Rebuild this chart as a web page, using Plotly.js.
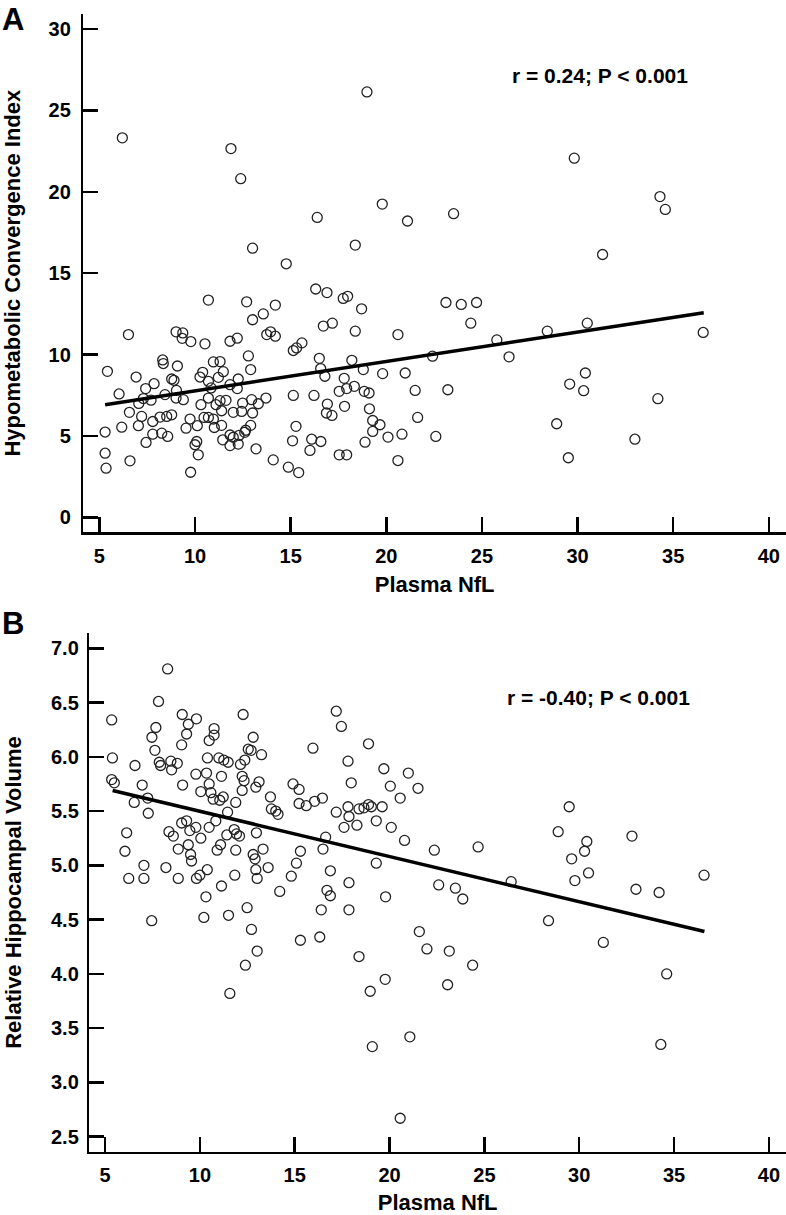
<!DOCTYPE html>
<html><head><meta charset="utf-8">
<script src="https://cdn.plot.ly/plotly-3.0.1.min.js"></script>
<style>html,body{margin:0;padding:0;background:#fff}#chart{width:786px;height:1215px}</style>
</head><body><div id="chart"></div>
<script>
// Panel A: Plasma NfL vs Hypometabolic Convergence Index
const nflA = [6.20,11.88,12.39,18.99,19.79,16.39,18.38,13.01,14.77,16.31,16.90,17.98,17.75,
21.11,23.52,29.83,34.31,34.59,31.31,
23.12,23.92,24.72,24.42,20.61,22.42,25.78,26.42,28.42,30.51,36.57,20.99,21.51,23.22,29.59,30.41,30.32,34.20,21.64,28.91,20.09,20.82,22.59,33.0,20.61,29.52,
10.70,12.70,14.20,13.57,13.01,18.71,16.71,17.18,18.38,9.01,9.36,9.33,9.78,10.52,11.83,12.21,13.75,13.95,14.20,15.14,15.31,15.59,6.52,5.42,12.79,16.50,18.20,10.96,11.31,8.31,8.34,9.08,12.91,16.57,16.79,18.80,19.81,10.40,11.48,10.26,11.22,12.26,10.70,6.92,8.78,8.90,7.86,7.42,6.03,8.43,9.03,9.39,9.01,11.83,12.21,10.84,10.70,11.10,11.31,11.62,12.49,12.96,13.31,13.01,12.44,13.71,10.31,7.06,7.30,7.70,6.57,7.21,7.79,8.17,8.52,8.78,9.74,10.47,10.70,10.96,11.39,12.00,6.17,7.04,9.53,10.12,11.01,11.39,12.91,12.65,15.28,19.67,19.29,5.30,7.79,8.26,8.57,7.44,10.09,10.00,11.45,11.83,12.26,11.83,12.0,12.30,12.60,13.19,15.10,16.10,16.01,16.58,18.89,10.17,14.09,17.54,17.93,14.88,15.42,9.77,5.35,5.30,6.60,16.22,15.14,17.54,17.93,18.33,17.80,18.85,19.10,16.92,16.87,17.16,17.82,19.12,19.29];
const hciA = [23.32,22.66,20.81,26.14,19.25,18.43,16.73,16.54,15.58,14.03,13.81,13.58,13.45,
18.21,18.66,22.07,19.71,18.92,16.15,
13.20,13.08,13.20,11.93,11.23,9.90,10.90,9.86,11.44,11.93,11.36,8.87,7.80,7.84,8.19,8.87,7.78,7.29,6.14,5.75,4.93,5.11,4.97,4.80,3.49,3.66,
13.35,13.24,13.04,12.50,12.14,12.81,11.75,11.93,11.44,11.40,11.33,11.0,10.80,10.66,10.82,11.01,11.23,11.40,11.13,10.25,10.41,10.72,11.23,8.97,9.92,9.77,9.65,9.55,9.57,9.67,9.45,9.30,9.08,9.14,8.67,9.08,8.83,8.91,8.95,8.62,8.60,8.50,8.36,8.62,8.50,8.42,8.21,7.91,7.58,7.54,7.80,7.23,7.33,8.15,7.91,7.95,7.33,6.92,7.17,7.19,7.02,7.23,6.98,6.41,6.51,7.33,6.92,7.00,7.30,7.20,6.45,6.20,5.89,6.16,6.20,6.30,6.04,6.14,6.14,6.04,6.55,6.45,5.54,5.63,5.48,5.63,5.52,5.65,5.65,5.35,5.59,5.69,5.28,5.24,5.11,5.17,4.97,4.60,4.66,4.46,4.76,4.41,4.50,5.06,4.92,5.03,5.22,4.21,4.70,4.80,4.11,4.66,4.62,3.84,3.53,3.84,3.84,3.08,2.75,2.77,3.02,3.94,3.47,7.49,7.49,7.74,7.91,8.05,8.54,7.74,7.64,6.96,6.41,6.26,6.82,6.67,5.95];
const fitAx = [5.3, 36.6];
const fitAy = [6.92, 12.57];

// Panel B: Plasma NfL vs Relative Hippocampal Volume
const nflB = [8.30,7.82,5.35,5.39,5.35,5.49,6.58,6.96,7.25,6.54,7.28,6.14,6.05,6.25,7.05,7.05,7.68,7.47,7.63,7.86,7.93,8.47,8.81,8.51,9.09,9.04,9.07,9.39,9.82,9.30,9.79,10.35,10.40,10.05,10.49,10.58,10.70,10.49,10.75,10.75,11.00,11.26,11.49,11.14,11.05,11.23,11.46,11.89,12.14,12.37,12.23,12.33,12.23,12.28,12.81,12.55,12.70,12.95,13.12,13.25,13.72,13.77,14.00,14.12,14.91,15.23,15.23,15.61,16.05,16.46,15.96,17.19,17.46,17.81,17.98,17.19,17.81,17.86,17.60,18.28,18.39,18.65,18.89,19.04,18.89,19.61,19.70,20.04,20.09,19.30,19.30,16.63,16.49,15.30,15.09,14.82,16.88,17.86,14.21,16.70,16.88,19.79,12.98,13.33,13.60,12.95,12.81,12.91,13.02,11.84,11.89,12.09,11.81,11.93,11.42,11.09,10.84,10.91,11.14,10.39,10.00,9.82,10.32,10.49,10.05,9.79,9.47,9.30,9.04,9.39,9.51,9.56,8.86,8.60,8.37,8.21,8.86,
7.46,10.21,11.51,12.49,12.72,12.40,13.02,11.58,15.30,16.40,16.32,17.86,18.39,18.98,19.77,19.09,
20.99,20.56,21.50,20.79,22.36,24.67,29.47,28.89,30.40,30.28,29.60,30.49,29.77,32.78,36.58,26.41,22.59,23.47,23.86,32.99,34.21,
21.57,21.97,23.15,24.38,23.06,28.38,31.27,34.61,21.07,34.30,20.56];
const hvB = [6.81,6.51,6.34,5.99,5.79,5.76,5.92,5.74,5.62,5.58,5.48,5.30,5.13,4.88,5.00,4.88,6.27,6.18,6.06,5.95,5.92,5.96,5.94,5.88,5.74,6.11,6.39,6.30,6.35,6.21,5.84,5.85,5.99,5.68,5.75,5.67,5.61,6.15,6.26,6.20,5.99,5.97,5.95,5.82,5.60,5.63,5.49,5.58,5.93,5.97,5.82,5.78,5.69,6.39,6.18,6.07,6.06,5.72,5.77,6.02,5.63,5.52,5.50,5.47,5.75,5.70,5.57,5.55,5.59,5.62,6.08,6.42,6.28,5.96,5.76,5.49,5.54,5.45,5.35,5.37,5.52,5.53,5.56,5.54,6.12,5.54,5.89,5.73,5.35,5.41,5.02,5.26,5.15,5.13,5.02,4.90,4.95,4.84,4.76,4.77,4.72,4.71,5.30,5.15,4.98,4.96,5.10,5.06,4.88,4.91,5.14,5.27,5.33,5.29,5.28,5.19,5.41,5.14,4.81,4.96,4.91,4.88,4.71,5.35,5.25,5.35,5.32,5.41,5.39,5.19,5.10,5.04,5.15,5.27,5.31,4.98,4.88,
4.49,4.52,4.54,4.61,4.41,4.08,4.21,3.82,4.31,4.59,4.34,4.59,4.16,3.84,3.95,3.33,
5.85,5.62,5.71,5.23,5.14,5.17,5.54,5.31,5.22,5.13,5.06,4.93,4.86,5.27,4.91,4.85,4.82,4.79,4.69,4.78,4.75,
4.39,4.23,4.21,4.08,3.90,4.49,4.29,4.00,3.42,3.35,2.67];
const fitBx = [5.4, 36.6];
const fitBy = [5.69, 4.39];

const xTicks = [5,10,15,20,25,30,35,40];
const yTicksA = [0,5,10,15,20,25,30];
const yTicksB = [2.5,3.0,3.5,4.0,4.5,5.0,5.5,6.0,6.5,7.0];
const yTickTextB = yTicksB.map(v => v.toFixed(1));

const FF = 'Liberation Sans, Arial, Helvetica, sans-serif';
const tickFont = {family: FF, size: 20, color: '#000', weight: 'bold'};
const titleFont = {family: FF, size: 22, color: '#000', weight: 'bold'};

const markerStyle = {symbol: 'circle-open', size: 10, color: '#222', line: {width: 1.3, color: '#222'}};
const traces = [
  {x: nflA, y: hciA, type: 'scatter', mode: 'markers', marker: markerStyle, xaxis: 'x', yaxis: 'y', hoverinfo: 'x+y'},
  {x: fitAx, y: fitAy, type: 'scatter', mode: 'lines', line: {color: '#000', width: 3.5}, xaxis: 'x', yaxis: 'y'},
  {x: nflB, y: hvB, type: 'scatter', mode: 'markers', marker: markerStyle, xaxis: 'x2', yaxis: 'y2', hoverinfo: 'x+y'},
  {x: fitBx, y: fitBy, type: 'scatter', mode: 'lines', line: {color: '#000', width: 3.5}, xaxis: 'x2', yaxis: 'y2'}
];

const axCommon = {showgrid: false, zeroline: false, showline: true, linecolor: '#000', linewidth: 2.5,
  ticks: 'inside', ticklen: 15, tickwidth: 2.5, tickcolor: '#000', tickfont: tickFont, automargin: false, fixedrange: true};

const layout = {
  width: 786, height: 1215,
  margin: {l: 0, r: 0, t: 0, b: 0},
  paper_bgcolor: '#fff', plot_bgcolor: '#fff',
  showlegend: false,
  xaxis: Object.assign({}, axCommon, {domain: [0.106, 1], range: [4.16, 40.9], tickvals: xTicks, anchor: 'y',
    ticklabelstandoff: 4,
    title: {text: 'Plasma NfL', font: titleFont, standoff: 11}}),
  yaxis: Object.assign({}, axCommon, {domain: [0.5619, 0.98848], range: [-0.92, 30.93], tickvals: yTicksA, anchor: 'x',
    ticklabelstandoff: 6,
    title: {text: 'Hypometabolic Convergence Index', font: titleFont, standoff: 28}}),
  xaxis2: Object.assign({}, axCommon, {domain: [0.1136, 1], range: [4.17, 40.9], tickvals: xTicks, anchor: 'y2',
    ticklabelstandoff: 4,
    title: {text: 'Plasma NfL', font: titleFont, standoff: 19}}),
  yaxis2: Object.assign({}, axCommon, {domain: [0.0521, 0.47877], range: [2.362, 7.138], tickvals: yTicksB, ticktext: yTickTextB, anchor: 'x2',
    ticklabelstandoff: 4,
    title: {text: 'Relative Hippocampal Volume', font: titleFont, standoff: 24}}),
  annotations: [
    {text: 'A', xref: 'paper', yref: 'paper', x: 0.0, y: 1.0, xanchor: 'left', yanchor: 'top', showarrow: false,
     font: {family: FF, size: 31, color: '#000', weight: 'bold'}},
    {text: 'B', xref: 'paper', yref: 'paper', x: 0.0, y: 1 - 604/1215, xanchor: 'left', yanchor: 'top', showarrow: false,
     font: {family: FF, size: 31, color: '#000', weight: 'bold'}},
    {text: 'r = 0.24; P < 0.001', xref: 'paper', yref: 'paper', x: 600/786, y: 1 - 75/1215, xanchor: 'center', yanchor: 'middle', showarrow: false,
     font: {family: FF, size: 21, color: '#000', weight: 'bold'}},
    {text: 'r = -0.40; P < 0.001', xref: 'paper', yref: 'paper', x: 598/786, y: 1 - 697/1215, xanchor: 'center', yanchor: 'middle', showarrow: false,
     font: {family: FF, size: 21, color: '#000', weight: 'bold'}}
  ]
};

Plotly.newPlot('chart', traces, layout, {staticPlot: true, displayModeBar: false});
</script>
</body></html>
